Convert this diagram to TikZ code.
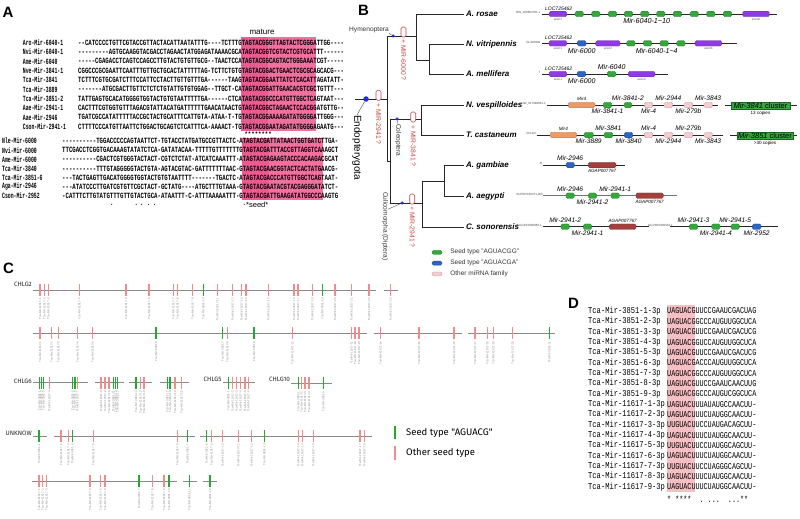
\documentclass[tikz,border=0pt]{standalone}
\usepackage{fontspec}
\setmainfont{Liberation Sans}
\setsansfont{Liberation Sans}
\setmonofont{Liberation Mono}
\newfontfamily\legfont{Fira Sans}
\usetikzlibrary{positioning, calc}
\definecolor{matPink}{HTML}{F2709E}
\definecolor{seedPink}{HTML}{EE5A90}
\definecolor{dPink}{HTML}{F5BFC3}
\definecolor{treeRed}{HTML}{C94545}
\definecolor{dotBlue}{HTML}{1F2FE0}
\definecolor{exPurple}{HTML}{8E3BE3}
\definecolor{exGreen}{HTML}{34A83C}
\definecolor{exBlue}{HTML}{2E64C4}
\definecolor{exPink}{HTML}{F7CCD0}
\definecolor{exOrange}{HTML}{EF9A66}
\definecolor{exRed}{HTML}{A3403E}
\definecolor{tkGreen}{HTML}{22AA30}
\definecolor{tkPink}{HTML}{F08C8C}
\definecolor{chrGray}{HTML}{8A8A8A}
\newcommand{\sqa}[1]{\scalebox{0.71}[1]{#1}}
\newcommand{\sqn}[1]{\scalebox{0.6}[1]{#1}}
\newcommand{\sqd}[1]{\scalebox{0.75}[1]{#1}}
\newcommand{\sqdn}[1]{\scalebox{0.79}[1]{#1}}
\newcommand{\labg}{Tca-Mir-3851-}
\newcommand{\labp}{Tca-Mir-11617-}
\newcommand{\chrrow}[3]{%
  \foreach \x/\t [count=\i] in {#3}{%
    \draw[tick \t] (\x,#2-6) -- (\x,#2+6);
    \node[tlab] (#1\i) at (\x,#2+8) {\csname lab\t\endcsname\i};
  }}

\begin{document}
\begin{tikzpicture}[x=1pt, y=-1pt,
  lbl/.style={font=\bfseries\fontsize{15}{15}\selectfont, inner sep=0},
  nmA/.style={anchor=west, inner sep=0, font=\ttfamily\bfseries\fontsize{8}{8}\selectfont},
  br/.style={draw=black!85, line width=0.9pt},
  sp/.style={anchor=west, inner sep=2pt, font=\bfseries\itshape\fontsize{8}{8}\selectfont},
  bdot/.style={circle, fill=dotBlue, inner sep=0, minimum size=3.5pt},
  mirbox/.style={draw=treeRed, fill=white, rounded corners=1.5pt, minimum width=5pt, minimum height=10pt, inner sep=0, line width=0.6pt},
  mirtxt/.style={rotate=-90, anchor=west, inner sep=0, text=treeRed, font=\fontsize{6.8}{7}\selectfont},
  cl/.style={inner sep=0, text=black!80, font=\fontsize{6.6}{7}\selectfont},
  lead/.style={draw=black!70, line width=0.4pt},
  chr/.style={draw=black!85, line width=0.8pt},
  ex/.style={rounded corners=1.5pt, inner sep=0, minimum height=5.5pt, line width=0.3pt},
  gl/.style={inner sep=0, font=\itshape\fontsize{6.6}{7}\selectfont},
  sm/.style={inner sep=0, font=\itshape\fontsize{4.6}{5}\selectfont},
  acc/.style={inner sep=0, font=\fontsize{3}{3}\selectfont, text=black!70},
  clus/.style={fill=exGreen, draw=exGreen!60!black, line width=0.4pt, inner sep=0, minimum height=7.5pt, font=\fontsize{7.5}{8}\selectfont},
  cseg/.style={draw=chrGray, line width=0.8pt},
  tick g/.style={draw=tkGreen, line width=1.4pt},
  tick p/.style={draw=tkPink, line width=1.4pt},
  tlab/.style={rotate=90, anchor=east, inner sep=0, font=\fontsize{2.9}{3}\selectfont, text=black!45},
  chl/.style={inner sep=0, font=\legfont\fontsize{6.3}{7}\selectfont, text=black!85},
  dnm/.style={anchor=west, inner sep=0, font=\ttfamily\fontsize{9}{9}\selectfont}]
\useasboundingbox (0,0) rectangle (800,519);
\fill[white] (0,0) rectangle (800,519);

% ---------------- A: alignment
\node[lbl] (labA) at (8,12) {A};
\node[inner sep=0, font=\fontsize{8}{8}\selectfont] (mat) at (262,32) {mature};
\fill[matPink] (241,37) rectangle (316,131);
\fill[seedPink] (241,37) rectangle (268,131);
\fill[matPink] (242,137.5) rectangle (323,200);
\fill[seedPink] (242,137.5) rectangle (269,200);
\foreach \nm/\sq [count=\i] in {
  Aro-Mir-6040-1/--CATCCCCTGTTCGTACCGTTACTACATTAATATTTG----TCTTTGTAGTACGGGTTAGTACTCGGGATTGG----,
  Nvi-Mir-6040-1/---------AGTGCAAGGTACGACCTAGAACTATGGAGATAAAACGCATAGTACGGTCGTACTCGTGCATTT------,
  Ame-Mir-6040/-----CGAGACCTCAGTCCAGCCTTGTACTGTGTTGCG--TAACTCCATAGTACGGCAGTACTGGGAAATCGT-----,
  Nve-Mir-3841-1/CGGCCCGCGAATTCAATTTGTTGCTGCACTATTTTTAG-TCTTCTGTGTAGTACGGACTGAACTCGCGCAGCACG---,
  Tca-Mir-3841/TCTTTCGTGCGATCTTTCCATTCCTACTTGTTGTTTGA------TAAGTAGTACGGAATTATCTCACATTAGATATT-,
  Tca-Mir-3889/-------ATGCGACTTGTTCTCTCTGTATTGTGTGGAG--TTGCT-CATAGTACGGATTGAACACGTCGCTGTTT---,
  Tca-Mir-3851-2/TATTGAGTGCACATGGGGTGGTACTGTGTAATTTTTGA------CTCATAGTACGGCCCATGTTGGCTCAGTAAT---,
  Aae-Mir-2941-1/CACTTTCGTGGTGTTTAGACGTATTACATGATTTTTTGAACATAACTGTAGTACGGCTAGAACTCCACGGATGTTG--,
  Aae-Mir-2946/TGATCGCCATATTTTTACCGCTACTGCATTTCATTGTA-ATAA-T-TGTAGTACGGAAAAGATATGGGGATTGGG---,
  Cson-Mir-2941-1/CTTTTCCCATGTTAATTCTGGACTGCAGTCTCATTTCA-AAAACT-TGTAGTACGGAATAGATATGGGGAGAATG---}{
  \node[nmA] (an\i) at (22.7,{42.7+9.33*(\i-1)}) {\sqn{\nm}};
  \node[nmA] (as\i) at (78,{42.7+9.33*(\i-1)}) {\sqa{\sq}};
}
\node[nmA, font=\ttfamily\bfseries\fontsize{6.5}{6.5}\selectfont] (star) at (244.4,134.6) {\scalebox{0.87}[1]{********}};
\foreach \nm/\sq [count=\i] in {
  Nle-Mir-6000/----------TGGACCCCCAGTAATTCT-TGTACCTATGATGCCGTTACTC-ATAGTACGATTATAACTGGTGATCTTGA-,
  Nvi-Mir-6000/TTCGACCTCGGTGACAAAGTATATCTCA-GATATACAA-TTTTTGTTTTTTTGTAGTACGATTTACCGTTAGGTCAAAGCT,
  Ame-Mir-6000/----------CGACTCGTGGGTACTACT-CGTCTCTAT-ATCATCAAATTT-ATAGTACGAGAAGTACCCACAAGACGCAT,
  Tca-Mir-3840/----------TTTGTAGGGGGTACTGTA-AGTACGTAC-GATTTTTTTAAC-GTAGTACGAACGGTACTCACTATGAACG-,
  Tca-Mir-3851-6/---TACTGAGTTGACATGGGGTGGTACTGTGTAATTTT-------TGACTC-ATAGTACGACCCATGTTGGCTCAGTAAT-,
  Aga-Mir-2946/---ATATCCCTTGATCGTGTTCGCTACT-GCTATG----ATGCTTTGTAAA-GTAGTACGAATACGTACGAGGGATATCT-,
  Cson-Mir-2952/-CATTTCTTGTATGTTTGTTGTACTGCA-ATAATTT-C-ATTTAAAAATTT-GTAGTACGATTGAAGATATGGCCCAAGTG}{
  \node[nmA] (bn\i) at (2,{141+9.15*(\i-1)}) {\sqn{\nm}};
  \node[nmA] (bs\i) at (62,{141+9.15*(\i-1)}) {\sqa{\sq}};
}
\foreach \x [count=\i] in {110,134.3,140,146.7,152.7,242.5}
  \node[nmA] (dt\i) at (\x,205) {\sqa{.}};
\node[inner sep=0, anchor=west, font=\fontsize{7.5}{8}\selectfont] (seed) at (246,205) {*seed*};

% ---------------- B: tree
\node[lbl] (labB) at (363.5,10.5) {B};
\node[sp] (aro) at (464,14) {A. rosae};
\node[sp] (nvi) at (464,44) {N. vitripennis};
\node[sp] (ame) at (464,74) {A. mellifera};
\node[sp] (nve) at (464,105) {N. vespilloides};
\node[sp] (tca) at (464,135) {T. castaneum};
\node[sp] (aga) at (464,165) {A. gambiae};
\node[sp] (aae) at (464,196) {A. aegypti};
\node[sp] (cso) at (464,227) {C. sonorensis};
\coordinate (root) at (355,99);
\coordinate (n0) at (387,99);
\coordinate (hy) at (416,36);
\coordinate (nv) at (429,60);
\coordinate (cd) at (390,161);
\coordinate (co) at (421,119);
\coordinate (di) at (422,203);
\coordinate (ag) at (444,181);
\draw[br] (root) -- (n0);
\draw[br] (n0) |- (hy);
\draw[br] (n0) |- (cd);
\draw[br] (hy) |- (aro.west);
\draw[br] (hy) |- (nv);
\draw[br] (nv) |- (nvi.west);
\draw[br] (nv) |- (ame.west);
\draw[br] (cd) |- (co);
\draw[br] (cd) |- (di);
\draw[br] (co) |- (nve.west);
\draw[br] (co) |- (tca.west);
\draw[br] (di) |- (ag);
\draw[br] (di) |- (cso.west);
\draw[br] (ag) |- (aga.west);
\draw[br] (ag) |- (aae.west);
% clades
\node[bdot, minimum size=5.5pt] (dEnd) at (366,99) {};
\node[bdot] (dHym) at (393,36) {};
\node[bdot] (dCol) at (397,119) {};
\node[bdot] (dDip) at (402,203) {};
\node[rotate=-90, anchor=west, inner sep=0, font=\fontsize{10}{10}\selectfont] (endL) at (357,115) {Endopterygota};
\node[cl, anchor=east] (hymL) at (389,30) {Hymenoptera};
\node[cl, rotate=-90, anchor=west] (colL) at (398,124) {Coleoptera};
\node[cl, rotate=-90, anchor=west] (culL) at (385,192) {Culicomorpha (Diptera)};
\draw[lead] (dEnd) -- (endL.west);
\draw[lead] (hymL.south east) -- (dHym);
\draw[lead] (dCol) -- (colL.west);
\draw[lead] (dDip) -- ($(culL.north west)!0.25!(culL.north east)$);
% gains
\node[mirbox] (m1) at (378.5,95.3) {};
\node[mirtxt] (m1t) at (378.5,103) {+ MIR-2941 ?};
\node[mirbox] (m2) at (403.5,32) {};
\node[mirtxt] (m2t) at (403.5,39) {+ MIR-6000 ?};
\node[mirbox] (m3) at (413.2,117) {};
\node[mirtxt] (m3t) at (413.2,125) {+ MIR-3841 ?};
\node[mirbox] (m4) at (412.2,199) {};
\node[mirtxt] (m4t) at (412.2,206) {+ MIR-2941 ?};
% legend
\foreach \c/\t [count=\i] in {exGreen/Seed type "AGUACGG", exBlue/Seed type "AGUACGA", exPink/Other miRNA family}{
  \node[ex, fill=\c, draw=\c!75!black, minimum width=10pt, minimum height=4pt] (bk\i) at (437,{252.3+10.8*(\i-1)}) {};
  \node[inner sep=0, anchor=west, font=\fontsize{6.5}{7}\selectfont, text=black!80, right=8pt of bk\i] (bt\i) {\t};
}

% ---------------- B: loci
% A. rosae
\node[acc, anchor=east] (a1) at (540.5,12.5) {NW\_020664761.1};
\coordinate (g1a) at (541.7,14); \coordinate (g1b) at (776.7,14);
\draw[chr] (g1a) -- (g1b);
\foreach \a/\b/\c [count=\k] in {549/566.7/exPurple, 575/583.3/exGreen, 591.7/600/exGreen, 608.3/616.7/exGreen, 624.3/632.7/exGreen, 640.7/649/exGreen, 656.7/665/exGreen, 673.3/681.7/exGreen, 690/698.3/exGreen, 706.7/715/exGreen, 723.3/731.7/exGreen, 742.7/769.3/exPurple}
  \node[ex, fill=\c, draw=\c!75!black, minimum width={(\b-\a)*1pt}] (g1e\k) at ({(\a+\b)/2},14) {};
\node[gl, font=\itshape\fontsize{5}{5}\selectfont, anchor=south west] (loc1) at (545,10.5) {LOC725462};
\node[acc, below=1pt of g1e1] (x11) {exon1};
\node[acc, below=1pt of g1e12] (x12) {exon2};
\node[gl, font=\itshape\fontsize{7.2}{8}\selectfont] (mr1) at (646.7,21) {Mir-6040-1\textasciitilde10};
% N. vitripennis
\node[acc, anchor=east] (a2) at (540.5,42) {GL340600};
\coordinate (g2a) at (541.7,43.3); \coordinate (g2b) at (736.7,43.3);
\draw[chr] (g2a) -- (g2b);
\foreach \a/\b/\c [count=\k] in {549/566.7/exPurple, 577.3/586/exBlue, 595.7/620/exPurple, 626.7/635/exGreen, 643.3/651.7/exGreen, 660/668.3/exGreen, 676.7/685/exGreen, 695/721.7/exPurple}
  \node[ex, fill=\c, draw=\c!75!black, minimum width={(\b-\a)*1pt}] (g2e\k) at ({(\a+\b)/2},43.3) {};
\node[gl, font=\itshape\fontsize{5}{5}\selectfont, anchor=south west] (loc2) at (545,40) {LOC725462};
\node[acc, below=1pt of g2e1] (x21) {exon1};
\node[acc, below=1pt of g2e3] (x22) {exon2};
\node[acc, below=1pt of g2e8] (x23) {exon3};
\node[gl, font=\itshape\fontsize{7}{8}\selectfont] (mr21) at (581.7,50.7) {Mir-6000};
\node[gl, font=\itshape\fontsize{7}{8}\selectfont] (mr22) at (656.7,50.7) {Mir-6040-1\textasciitilde4};
% A. mellifera
\node[acc, anchor=east] (a3) at (540.5,72.5) {7};
\coordinate (g3a) at (541.7,74); \coordinate (g3b) at (668.3,74);
\draw[chr] (g3a) -- (g3b);
\foreach \a/\b/\c [count=\k] in {549/566.7/exPurple, 577/585.7/exBlue, 607.3/616/exGreen, 628.3/655/exPurple}
  \node[ex, fill=\c, draw=\c!75!black, minimum width={(\b-\a)*1pt}] (g3e\k) at ({(\a+\b)/2},74) {};
\node[gl, font=\itshape\fontsize{5}{5}\selectfont, anchor=south west] (loc3) at (545,70.7) {LOC725462};
\node[acc, below=1pt of g3e1] (x31) {exon1};
\node[acc, below=1pt of g3e4] (x32) {exon2};
\node[gl, font=\itshape\fontsize{7}{8}\selectfont] (mr31) at (581.7,80.7) {Mir-6000};
\node[gl, font=\itshape\fontsize{7}{8}\selectfont, above=1.2pt of g3e3] (mr32) {Mir-6040};
% N. vespilloides
\node[acc, anchor=east] (a4) at (546,103.5) {NW\_017098861.1};
\coordinate (g4a) at (546.7,105); \coordinate (g4b) at (718.3,105);
\draw[chr] (g4a) -- (g4b);
\foreach \a/\b/\c [count=\k] in {568.3/595/exOrange, 603.3/611.7/exGreen, 624/631.7/exGreen, 644.3/652.7/exPink, 664/672.7/exPink, 684/692.7/exPink, 704/712.3/exPink}
  \node[ex, fill=\c, draw=\c!75!black, minimum width={(\b-\a)*1pt}] (g4e\k) at ({(\a+\b)/2},105) {};
\node[sm, above=1pt of g4e1] (mf4) {Mir4};
\node[gl, below=1pt of g4e2] (l42) {Mir-3841-1};
\node[gl, above=1pt of g4e3] (l43) {Mir-3841-2};
\node[gl, below=1pt of g4e4] (l44) {Mir-4};
\node[gl, above=1pt of g4e5] (l45) {Mir-2944};
\node[gl, below=1pt of g4e6] (l46) {Mir-279b};
\node[gl, above=1pt of g4e7] (l47) {Mir-3843};
\coordinate (c4a) at (725,105.5); \coordinate (c4b) at (796.7,105.5);
\draw[chr] (c4a) -- (c4b);
\node[clus, minimum width=59pt] (cl4) at (760.5,105.5) {\textit{Mir-3841} cluster};
\node[inner sep=0, font=\fontsize{4.6}{5}\selectfont, below=1.8pt of cl4] (cp4) {13 copies};
% T. castaneum
\node[acc, anchor=east] (a5) at (536,133.5) {ChLG3};
\coordinate (g5a) at (536.7,135); \coordinate (g5b) at (723.3,135);
\draw[chr] (g5a) -- (g5b);
\foreach \a/\b/\c [count=\k] in {550/576.7/exOrange, 584/593.3/exGreen, 604/612.7/exGreen, 624.3/632.7/exBlue, 644.3/652.7/exPink, 664/672.7/exPink, 684/692.7/exPink, 704/712.3/exPink}
  \node[ex, fill=\c, draw=\c!75!black, minimum width={(\b-\a)*1pt}] (g5e\k) at ({(\a+\b)/2},135) {};
\node[sm, above=1pt of g5e1] (mf5) {Mir4};
\node[gl, below=1pt of g5e2] (l52) {Mir-3889};
\node[gl, above=1pt of g5e3] (l53) {Mir-3841};
\node[gl, below=1pt of g5e4] (l54) {Mir-3840};
\node[gl, above=1pt of g5e5] (l55) {Mir-4};
\node[gl, below=1pt of g5e6] (l56) {Mir-2944};
\node[gl, above=1pt of g5e7] (l57) {Mir-279b};
\node[gl, below=1pt of g5e8] (l58) {Mir-3843};
\coordinate (c5a) at (730,135.5); \coordinate (c5b) at (796.7,135.5);
\draw[chr] (c5a) -- (c5b);
\node[clus, minimum width=56.6pt] (cl5) at (765,135.5) {\textit{Mir-3851} cluster};
\node[inner sep=0, font=\fontsize{4.6}{5}\selectfont, below=1.8pt of cl5] (cp5) {>30 copies};
% A. gambiae
\node[acc, anchor=east] (a6) at (543,163.5) {3L};
\coordinate (g6a) at (543.3,165); \coordinate (g6b) at (625,165);
\draw[chr] (g6a) -- (g6b);
\foreach \a/\b/\c [count=\k] in {566/574.3/exBlue, 588.3/616/exRed}
  \node[ex, fill=\c, draw=\c!75!black, minimum width={(\b-\a)*1pt}] (g6e\k) at ({(\a+\b)/2},165) {};
\node[gl, above=1pt of g6e1] (l61) {Mir-2946};
\node[sm, below=1.2pt of g6e2] (l62) {AGAP007767};
% A. aegypti
\node[acc, anchor=east] (a7) at (543,194.5) {SUPERCONT1.285};
\coordinate (g7a) at (543.3,195.7); \coordinate (g7b) at (676.7,195.7);
\draw[chr, draw=black!55] (g7a) -- (g7b);
\foreach \a/\b/\c [count=\k] in {566/574.3/exGreen, 588.3/596.7/exGreen, 611/619.3/exGreen, 636/663.3/exRed}
  \node[ex, fill=\c, draw=\c!75!black, minimum width={(\b-\a)*1pt}] (g7e\k) at ({(\a+\b)/2},195.7) {};
\node[gl, above=1pt of g7e1] (l71) {Mir-2946};
\node[gl, below=1pt of g7e2] (l72) {Mir-2941-2};
\node[gl, above=1pt of g7e3] (l73) {Mir-2941-1};
\node[sm, below=1.2pt of g7e4] (l74) {AGAP007767};
% C. sonorensis
\node[acc, anchor=east] (a8) at (542,225.5) {CGGP01000065.1};
\coordinate (g8a) at (542.7,226.7); \coordinate (g8b) at (649.3,226.7);
\draw[chr] (g8a) -- (g8b);
\foreach \a/\b/\c [count=\k] in {561/569.3/exGreen, 583.3/591.7/exGreen, 609.3/636/exRed}
  \node[ex, fill=\c, draw=\c!75!black, minimum width={(\b-\a)*1pt}] (g8e\k) at ({(\a+\b)/2},226.7) {};
\node[gl, above=1pt of g8e1] (l81) {Mir-2941-2};
\node[gl, below=1pt of g8e2] (l82) {Mir-2941-1};
\node[sm, above=1.2pt of g8e3] (l83) {AGAP007767};
\node[acc, anchor=east] (a9) at (673,225.5) {GGVR01000953.1};
\coordinate (g9a) at (670,226.7); \coordinate (g9b) at (778.3,226.7);
\draw[chr] (g9a) -- (g9b);
\foreach \a/\b/\c [count=\k] in {689.3/697.7/exGreen, 711.7/720/exGreen, 731/739.3/exGreen, 752.3/761/exBlue}
  \node[ex, fill=\c, draw=\c!75!black, minimum width={(\b-\a)*1pt}] (g9e\k) at ({(\a+\b)/2},226.7) {};
\node[gl, above=1pt of g9e1] (l91) {Mir-2941-3};
\node[gl, below=1pt of g9e2] (l92) {Mir-2941-4};
\node[gl, above=1pt of g9e3] (l93) {Mir-2941-5};
\node[gl, below=1pt of g9e4] (l94) {Mir-2952};

% ---------------- C: chromosomes
\node[lbl] (labC) at (8.5,268) {C};
\node[chl, anchor=east] (chlg2) at (32,284) {CHLG2};
\foreach \a/\b in {33/376, 384/398} \draw[cseg] (\a,290) -- (\b,290);
\chrrow{ca}{290}{40/p, 44.3/p, 48.3/p, 79.3/p, 126/p, 149/p, 173.3/p, 177.7/p, 192.7/p, 203.3/g, 217.3/p, 232.7/p, 241.7/p, 246/p, 268.3/p, 294/p, 298/p, 312.3/p, 322.3/g, 335/p, 351.7/p, 369/p, 390.7/p}
\foreach \a/\b in {33/366.7, 374/461.7, 468.3/555} \draw[cseg] (\a,333.3) -- (\b,333.3);
\chrrow{cb}{333.3}{40/p, 51.7/p, 58.3/p, 77.7/p, 92.7/p, 156/g, 222.7/g, 227.3/p, 254/g, 292.3/p, 351.7/p, 355/p, 359/p, 380.7/p, 419/p, 454/p, 475/p, 487.3/p, 493.3/p, 512.7/p, 549.3/g}
\node[chl, anchor=east] (chlg6) at (32,381) {CHLG6};
\foreach \a/\b in {33/88, 95/124, 129/152, 160/189.3} \draw[cseg] (\a,382.7) -- (\b,382.7);
\chrrow{cc}{382.7}{39.3/g, 41.3/g, 43.5/g, 49.3/p, 72.7/g, 74.9/g, 77.3/p, 101/p, 105/p, 109/p, 113.3/g, 115.5/g, 117.7/g, 136/g, 140.7/p, 144/p, 167.3/g, 170/g, 175/p, 181.7/p}
\node[chl, anchor=east] (chlg5) at (221.7,379) {CHLG5};
\draw[cseg] (223,382.7) -- (255,382.7);
\chrrow{cd}{382.7}{228.3/g, 232.7/p, 236.7/p, 240.7/p, 245/p, 248.3/p}
\node[chl, anchor=east] (chlg10) at (290,379) {CHLG10};
\draw[cseg] (290.7,383.3) -- (331.7,383.3);
\chrrow{ce}{383.3}{298.3/g, 301.7/p, 305/p, 309/p, 323.3/g}
\node[chl, anchor=east] (unk) at (32,433) {UNKNOW};
\foreach \a/\b in {32.7/46.7, 54/195, 200/371.7} \draw[cseg] (\a,436) -- (\b,436);
\chrrow{cf}{436}{39/g, 61/p, 68.3/p, 72.3/g, 93.3/p, 177.3/p, 187.7/g, 206.7/g, 211.7/p, 222.7/p, 238.3/p, 251.7/p, 264.3/g, 298.3/p, 302.3/p, 313.3/p, 360/p, 364.3/p}
\foreach \a/\b in {32.3/176.7, 183.3/196.7, 203.3/217.3} \draw[cseg] (\a,481) -- (\b,481);
\chrrow{cg}{481}{39/p, 42.7/p, 46.7/p, 90/p, 100.7/p, 105/p, 139/g, 152.3/p, 164/p, 169/g, 189.3/g, 210/g}
% legend
\draw[tick g, line width=2.6pt] (395,426) -- (395,439);
\node[inner sep=0, anchor=west, font=\legfont\fontsize{9.5}{10}\selectfont] (lg1) at (406,432.7) {Seed type "AGUACG"};
\draw[tick p, line width=2.6pt] (395,446) -- (395,460);
\node[inner sep=0, anchor=west, font=\legfont\fontsize{9.5}{10}\selectfont] (lg2) at (406,452.7) {Other seed type};

% ---------------- D: mature 3p
\node[lbl] (labD) at (573.5,303.5) {D};
\fill[dPink] (666.7,305) rectangle (695,492);
\foreach \nm/\sq [count=\i] in {3851-1-3p/UAGUACGUUCCGAAUCGACUAG, 3851-2-3p/UAGUACGGCCCAUGUUGGCUCA, 3851-3-3p/UAGUACGUUCCGAAUCGACUCG, 3851-4-3p/UAGUACGGUCCAUGUUGGCUCA, 3851-5-3p/UAGUACGUUCCGAAUCGACUCG, 3851-6-3p/UAGUACGACCCAUGUUGGCUCA, 3851-7-3p/UAGUACGGCCCAUGUUGGCUCA, 3851-8-3p/UAGUACGUUCCGAAUCAACUUG, 3851-9-3p/UAGUACGGCCCAUGUCGGCUCA, 11617-1-3p/UAGUACUUUAUAUGCCAACUU-, 11617-2-3p/UAGUACUUUCUAUGGCAACUU-, 11617-3-3p/UUGUACUUCCUAUGACAGCUU-, 11617-4-3p/UAGUACUUUCUAUGGCAACUU-, 11617-5-3p/UUGUACUUCCUAUGGCAGCUU-, 11617-6-3p/UAGUACUUUCUAUGGCAACUU-, 11617-7-3p/UUGUACUUCCUAGGGCAGCUU-, 11617-8-3p/UAGUACUUUCUAUGGCAACUU-, 11617-9-3p/UAGUACUUUCUAUGGCAACUU-}{
  \node[dnm] (dn\i) at (588,{311+10.35*(\i-1)}) {\sqdn{Tca-Mir-\nm}};
  \node[dnm] (ds\i) at (667,{311+10.35*(\i-1)}) {\sqd{\sq}};
}
\node[dnm] (dcons) at (667,499) {\sqd{*~****~~.~...~~...**}};
\end{tikzpicture}
\end{document}
